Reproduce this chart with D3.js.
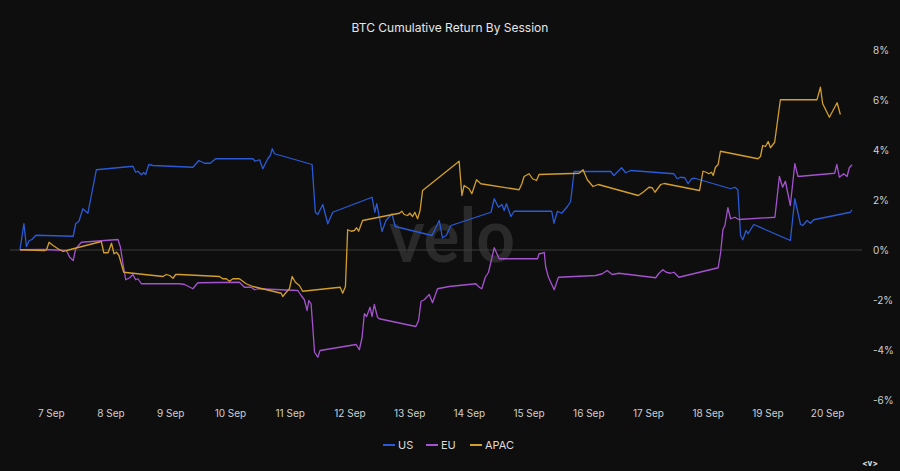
<!DOCTYPE html>
<html>
<head>
<meta charset="utf-8">
<script src="https://cdn.jsdelivr.net/npm/d3@7"></script>
<style>
  html, body { margin: 0; padding: 0; background: #0e0e0e; }
  svg { display: block; }
</style>
</head>
<body>
<svg id="chart" width="900" height="471"></svg>
<script>
// hours since 6 Sep 00:00 (UTC), cumulative return in %
var usData = [
  [11.6, 0.02], [13.2, 1.05], [14.2, 0.14], [15.3, 0.38], [16.3, 0.41], [18.0, 0.59],
  [33.0, 0.55], [34.0, 1.05], [35.3, 1.15], [36.9, 1.65], [38.9, 1.47], [42.3, 3.21],
  [57.0, 3.35], [58.1, 3.11], [59.0, 3.15], [60.4, 3.01], [61.3, 3.10], [62.1, 3.02], [63.4, 3.42], [65.1, 3.38],
  [81.1, 3.31], [83.5, 3.58], [85.8, 3.47], [88.1, 3.47], [90.2, 3.65],
  [105.2, 3.65], [106.1, 3.55], [107.9, 3.61], [109.2, 3.25], [111.2, 3.65], [112.2, 3.78], [113.0, 4.05], [113.9, 3.85],
  [129.0, 3.42], [130.3, 1.51], [131.3, 1.42], [133.3, 1.82], [135.3, 1.05], [137.3, 1.51],
  [153.1, 2.11], [154.2, 1.51], [155.0, 1.85], [157.1, 0.74], [158.7, 1.18], [161.1, 1.45], [162.4, 0.94],
  [177.2, 0.58], [180.1, 1.18], [181.4, 0.49], [182.9, 0.58], [184.8, 0.98],
  [200.9, 1.51], [202.2, 2.05], [203.9, 1.71], [205.3, 1.82], [206.2, 1.58], [207.1, 1.85], [208.9, 1.34], [210.2, 1.55],
  [225.3, 1.55], [226.2, 1.07], [227.6, 1.55], [229.3, 1.47], [231.6, 1.74], [232.9, 1.94], [234.3, 3.14],
  [249.0, 3.14], [250.3, 2.98], [252.3, 3.18], [253.4, 3.29], [255.0, 3.09], [257.0, 3.18],
  [274.4, 3.05], [275.7, 2.85], [277.1, 2.91], [278.8, 2.89], [280.1, 2.65], [281.5, 2.85], [282.8, 2.87],
  [297.2, 2.45], [298.9, 2.51], [300.1, 2.41], [301.2, 0.58], [302.1, 0.41], [303.4, 0.78], [304.2, 0.65], [306.5, 1.02],
  [321.2, 0.38], [323.0, 2.05], [325.3, 1.02], [326.2, 0.98], [327.9, 1.18], [329.3, 1.07], [330.6, 1.21],
  [345.3, 1.51], [346.0, 1.61]
];

var euData = [
  [11.6, 0.01], [21.6, 0.02], [30.3, -0.02], [31.6, -0.29], [33.0, -0.42], [34.0, 0.05], [36.3, 0.31],
  [51.0, 0.42], [52.0, 0.11], [53.0, -0.55], [54.1, -1.19], [55.7, -1.11], [57.0, -0.98], [58.1, -1.19], [59.0, -1.15], [60.4, -1.35],
  [75.8, -1.35], [77.8, -1.38], [81.1, -1.55], [83.1, -1.31],
  [99.8, -1.29], [101.8, -1.49], [104.5, -1.49], [105.9, -1.59], [107.2, -1.55],
  [123.3, -1.62], [124.6, -1.82], [125.9, -1.99], [127.0, -2.42], [127.7, -2.02], [128.6, -2.15], [130.0, -4.09], [131.3, -4.29], [132.2, -4.02],
  [146.7, -3.78], [148.0, -3.99], [149.1, -3.49], [150.0, -2.55], [150.9, -2.66], [152.3, -2.29], [153.1, -2.66], [154.0, -2.18], [155.3, -2.69], [156.0, -2.75],
  [170.7, -3.06], [171.8, -2.82], [172.8, -2.05], [174.1, -1.99], [176.1, -1.78], [177.4, -2.11], [179.4, -1.55], [184.1, -1.46],
  [194.8, -1.35], [196.2, -1.49], [197.2, -1.55], [198.6, -1.09], [199.9, -0.89], [202.2, 0.09], [204.2, -0.35],
  [219.6, -0.35], [220.2, -0.15], [221.6, -0.13], [222.3, -0.09], [222.9, -0.69], [224.0, -1.09], [226.3, -1.59], [228.0, -1.09],
  [243.0, -1.02], [245.6, -0.95], [247.6, -0.82], [249.6, -0.98], [252.3, -0.93],
  [267.1, -1.11], [268.4, -0.93], [270.0, -0.79], [271.3, -0.89], [273.1, -0.93], [274.4, -0.89], [276.4, -1.09],
  [292.2, -0.71], [293.2, -0.09], [294.1, 0.81], [294.9, 0.98], [296.1, 1.69], [297.2, 1.25], [298.9, 1.31], [300.5, 1.22],
  [315.0, 1.31], [316.8, 2.94], [318.1, 2.51], [319.2, 2.75], [321.2, 1.78], [323.0, 3.45], [324.3, 2.94],
  [339.0, 3.07], [339.9, 3.42], [340.9, 2.91], [342.6, 3.05], [344.0, 2.94], [344.9, 3.29], [346.0, 3.41]
];

var apacData = [
  [11.6, 0.01], [21.6, -0.02], [22.3, 0.01], [23.3, 0.31], [24.9, 0.18], [26.9, 0.05], [28.9, -0.06], [30.3, -0.02],
  [44.3, 0.34], [45.3, -0.11], [47.0, -0.11], [48.4, 0.27], [49.4, -0.15], [50.4, -0.09], [51.4, -0.22], [53.3, -0.89],
  [69.1, -1.06], [70.4, -0.98], [71.8, -1.02], [73.1, -1.13], [74.2, -0.98], [75.8, -0.98],
  [91.8, -1.06], [93.1, -1.15], [94.5, -1.15], [95.8, -1.25], [97.2, -1.15], [99.8, -1.15],
  [102.5, -1.35], [105.2, -1.46],
  [116.6, -1.73], [117.2, -1.86], [118.6, -1.69], [119.9, -1.55], [121.0, -1.06], [122.3, -1.29], [123.9, -1.42], [125.2, -1.65],
  [140.3, -1.49], [141.3, -1.73], [142.4, -1.46], [143.3, 0.81], [144.7, 0.75], [146.0, 0.78], [146.9, 0.89], [147.7, 0.75], [149.3, 1.18],
  [161.4, 1.42], [164.1, 1.47], [165.1, 1.55], [166.0, 1.42], [167.4, 1.38], [168.3, 1.47], [169.4, 1.34], [170.3, 1.51], [171.4, 1.25], [172.4, 1.58], [173.4, 2.38],
  [188.1, 3.55], [189.2, 2.18], [190.1, 2.58], [192.1, 2.45], [193.2, 2.25], [195.1, 2.81], [196.8, 2.65],
  [212.2, 2.41], [213.3, 2.65], [214.2, 2.94], [216.2, 3.05], [217.6, 2.85], [219.2, 2.78], [220.2, 3.02],
  [236.3, 3.07], [237.9, 3.21], [239.6, 2.81], [241.9, 2.54], [244.0, 2.62],
  [260.1, 2.18], [262.0, 2.31], [264.4, 2.51], [265.7, 2.49], [266.8, 2.31], [269.1, 2.62], [270.5, 2.66],
  [284.7, 2.38], [286.1, 3.15], [287.4, 3.11], [288.5, 3.05], [289.5, 3.11], [290.2, 2.98], [291.1, 3.31], [292.2, 3.42], [293.1, 3.95],
  [308.2, 3.65], [309.2, 3.74], [310.1, 4.18], [311.2, 4.14], [312.3, 4.34], [313.2, 4.09], [314.9, 4.31], [317.2, 6.01],
  [331.9, 6.01], [333.3, 6.51], [334.2, 5.85], [336.9, 5.31], [340.0, 5.89], [341.3, 5.42]
];

var seriesNames = ['US', 'EU', 'APAC'];
var yTicks = [-6, -4, -2, 0, 2, 4, 6, 8];
var colors = { US: '#2a5ad6', EU: '#a552cf', APAC: '#d39f2a' };

var startTime = Date.UTC(2023, 8, 6);
function toDate(h) { return new Date(startTime + h * 3600 * 1000); }

var allSeries = [
  { name: 'US', points: usData },
  { name: 'EU', points: euData },
  { name: 'APAC', points: apacData }
];

var svg = d3.select('#chart');
var fontFamily = 'Inter, "Noto Sans", sans-serif';

// background
svg.append('rect').attr('width', 900).attr('height', 471).attr('fill', '#0e0e0e');

// scales
var pad = 4; // hours either side
var x = d3.scaleUtc()
  .domain([toDate(11.6 - pad), toDate(346 + pad)])
  .range([10, 862]);

var y = d3.scaleLinear()
  .domain([-6, 8])
  .range([400, 50]);

// watermark
svg.append('text')
  .attr('x', 452)
  .attr('y', 262)
  .attr('text-anchor', 'middle')
  .attr('font-family', 'Lato, "Open Sans", sans-serif')
  .attr('font-weight', 700)
  .attr('font-size', 74)
  .attr('textLength', 126)
  .attr('lengthAdjust', 'spacingAndGlyphs')
  .attr('fill', '#2a2a2a')
  .text('velo');

// zero line
svg.append('line')
  .attr('x1', 10).attr('x2', 862)
  .attr('y1', y(0)).attr('y2', y(0))
  .attr('stroke', '#3c3c3c')
  .attr('stroke-width', 1);

// title
svg.append('text')
  .attr('x', 450)
  .attr('y', 32)
  .attr('text-anchor', 'middle')
  .attr('font-family', fontFamily)
  .attr('font-size', 12)
  .attr('fill', '#e6e6e6')
  .text('BTC Cumulative Return By Session');

// y axis on the right
var yAxis = d3.axisRight(y)
  .tickValues(yTicks)
  .tickSize(0)
  .tickPadding(0)
  .tickFormat(function (d) { return d + '%'; });

var yG = svg.append('g')
  .attr('transform', 'translate(873,0)')
  .call(yAxis);
yG.select('.domain').remove();
yG.selectAll('text')
  .attr('font-family', fontFamily)
  .attr('font-size', 10)
  .attr('fill', '#cfcfcf');

// x axis
var xAxis = d3.axisBottom(x)
  .ticks(d3.utcDay.every(1))
  .tickSize(0)
  .tickPadding(0)
  .tickFormat(d3.utcFormat('%-d Sep'));

var xG = svg.append('g')
  .attr('transform', 'translate(0,410)')
  .call(xAxis);
xG.select('.domain').remove();
xG.selectAll('text')
  .attr('font-family', fontFamily)
  .attr('font-size', 10)
  .attr('fill', '#cfcfcf');

// lines
var line = d3.line()
  .x(function (d) { return x(toDate(d[0])); })
  .y(function (d) { return y(d[1]); });

svg.append('g')
  .selectAll('path')
  .data(allSeries)
  .enter()
  .append('path')
  .attr('d', function (d) { return line(d.points); })
  .attr('fill', 'none')
  .attr('stroke', function (d) { return colors[d.name]; })
  .attr('stroke-width', 1.3)
  .attr('stroke-linejoin', 'round');

// legend
var legendX = [383, 426, 470];
var legend = svg.append('g')
  .selectAll('g')
  .data(seriesNames)
  .enter()
  .append('g')
  .attr('transform', function (d, i) { return 'translate(' + legendX[i] + ',445)'; });

legend.append('line')
  .attr('x1', 0).attr('x2', 12)
  .attr('y1', 0).attr('y2', 0)
  .attr('stroke', function (d) { return colors[d]; })
  .attr('stroke-width', 2);

legend.append('text')
  .attr('x', 15)
  .attr('y', 4)
  .attr('font-family', fontFamily)
  .attr('font-size', 11)
  .attr('fill', '#dcdcdc')
  .text(function (d) { return d; });

// small logo bottom right
svg.append('text')
  .attr('x', 870)
  .attr('y', 466)
  .attr('text-anchor', 'middle')
  .attr('font-family', fontFamily)
  .attr('font-weight', 700)
  .attr('font-size', 8)
  .attr('fill', '#e0e0e0')
  .text('<v>');
</script>
</body>
</html>
